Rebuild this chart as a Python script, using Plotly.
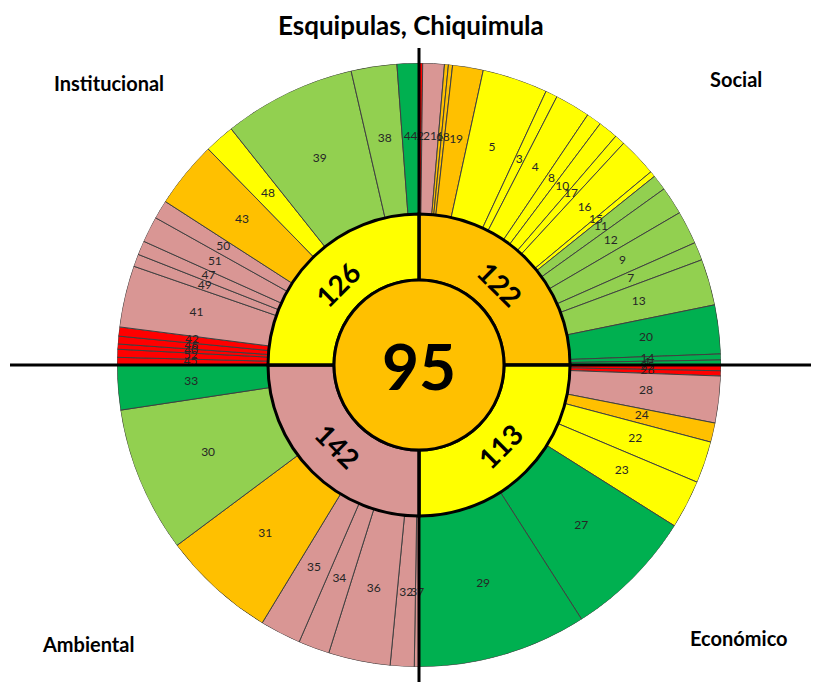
import math
import plotly.graph_objects as go

# ---------------- data ----------------
title_text = "Esquipulas, Chiquimula"
overall_score = 95
overall_level = 3

dimensions = ["Social", "Económico", "Ambiental", "Institucional"]
dimension_scores = [122, 113, 142, 126]
dimension_levels = [3, 4, 2, 4]

# indicators per dimension, clockwise order, with their share of the quadrant
social_ids = ["2", "21", "6", "18", "19", "5", "3", "4", "8", "10", "17", "16", "15",
              "11", "12", "9", "7", "13", "20", "14", "1"]
social_weights = [0.7, 4.15, 0.75, 0.8, 5.9, 12.6, 2.3, 6.8, 2.9, 3.8, 2.0, 7.5, 1.1,
                  3.0, 5.4, 6.4, 3.5, 8.9, 9.4, 1.15, 0.95]
social_levels = [1, 2, 3, 3, 3, 4, 4, 4, 4, 4, 4, 4, 4, 5, 5, 5, 5, 5, 6, 6, 6]

econ_ids = ["25", "26", "28", "24", "22", "23", "27", "29"]
econ_weights = [1.1, 1.0, 9.0, 3.7, 8.05, 9.35, 25.2, 32.6]
econ_levels = [1, 1, 2, 3, 4, 4, 6, 6]

amb_ids = ["37", "32", "36", "34", "35", "31", "30", "33"]
amb_weights = [0.9, 4.6, 11.9, 6.0, 7.9, 22.0, 28.1, 8.6]
amb_levels = [2, 2, 2, 2, 2, 3, 5, 6]

inst_ids = ["45", "52", "40", "46", "42", "41", "49", "47", "51", "50", "43", "48",
            "39", "38", "44"]
inst_weights = [1.46, 1.54, 1.0, 1.5, 1.75, 11.85, 2.4, 2.7, 5.0, 3.6, 12.9, 5.8,
                25.5, 8.8, 4.2]
inst_levels = [1, 1, 1, 1, 1, 2, 2, 2, 2, 2, 3, 4, 5, 5, 6]

# ---------------- style ----------------
level_colors = {1: "#FF0000", 2: "#D99694", 3: "#FFC000", 4: "#FFFF00",
                5: "#92D050", 6: "#00B050"}

OFF = 8                    # default page margin of the html body
W, H = 819 - OFF, 682 - OFF
CX, CY = 419, 365          # centre in page pixels (from top-left)
R_OUT, R_MID, R_IN = 302, 151, 85
FONT = "Lato, 'Open Sans', sans-serif"


def paper(px, py):
    return (px - OFF) / W, 1 - (py - OFF) / H


groups = [(social_ids, social_weights, social_levels),
          (econ_ids, econ_weights, econ_levels),
          (amb_ids, amb_weights, amb_levels),
          (inst_ids, inst_weights, inst_levels)]

thetas, widths, colors, labels = [], [], [], []
for q, (ids, wts, lvls) in enumerate(groups):
    total = sum(wts)
    start = 90.0 * q
    for i, w, lv in zip(ids, wts, lvls):
        span = 90.0 * w / total
        thetas.append(start + span / 2)
        widths.append(span)
        colors.append(level_colors[lv])
        labels.append(i)
        start += span

fig = go.Figure()

# outer ring
fig.add_trace(go.Barpolar(
    theta=thetas, width=widths, r=[R_OUT - R_MID] * len(thetas), base=R_MID,
    marker=dict(color=colors, line=dict(color="#404040", width=1)),
    hoverinfo="skip", showlegend=False))

# inner ring (dimensions)
dim_theta = [45 + 90 * k for k in range(4)]
fig.add_trace(go.Barpolar(
    theta=dim_theta, width=[90] * 4, r=[R_MID - R_IN] * 4, base=R_IN,
    marker=dict(color=[level_colors[l] for l in dimension_levels],
                line=dict(color="black", width=3)),
    hoverinfo="skip", showlegend=False))

# outer labels
fig.add_trace(go.Scatterpolar(
    theta=thetas, r=[(R_OUT + R_MID) / 2 + 2] * len(thetas), mode="text", text=labels,
    textfont=dict(size=12, color="#262626", family=FONT),
    hoverinfo="skip", showlegend=False))

x0, y1 = paper(CX - R_OUT, CY - R_OUT)
x1, y0 = paper(CX + R_OUT, CY + R_OUT)

annotations = []
for k, (s, th) in enumerate(zip(dimension_scores, dim_theta)):
    rr = (R_IN + R_MID) / 2 - 3
    ax, ay = paper(CX + rr * math.sin(math.radians(th)),
                   CY - rr * math.cos(math.radians(th)))
    ang = th
    while ang > 90:
        ang -= 180
    annotations.append(dict(x=ax, y=ay, xref="paper", yref="paper",
                            xanchor="center", yanchor="middle",
                            text=f"<b>{s}</b>", showarrow=False, textangle=ang,
                            font=dict(size=28, color="black", family=FONT)))

ax, ay = paper(CX, CY)
annotations.append(dict(x=ax, y=ay, xref="paper", yref="paper",
                        xanchor="center", yanchor="middle",
                        text=f"<b>{overall_score}</b>", showarrow=False,
                        font=dict(size=64, color="black", family=FONT)))

ax, ay = paper(411, 25)
annotations.append(dict(x=ax, y=ay, xref="paper", yref="paper",
                        xanchor="center", yanchor="middle",
                        text=f"<b>{title_text}</b>", showarrow=False,
                        font=dict(size=26, color="black", family=FONT)))

corner_pos = [(736, 79), (739, 638), (88, 644), (109, 83)]
for name, (px, py) in zip(dimensions, corner_pos):
    ax, ay = paper(px, py)
    annotations.append(dict(x=ax, y=ay, xref="paper", yref="paper",
                            xanchor="center", yanchor="middle",
                            text=f"<b>{name}</b>", showarrow=False,
                            font=dict(size=20, color="black", family=FONT)))

vx, vtop = paper(CX, 48)
_, vbot = paper(CX, 690)
hl, hy = paper(10, CY)
hr, _ = paper(830, CY)
cx0, cy1 = paper(CX - R_IN, CY - R_IN)
cx1, cy0 = paper(CX + R_IN, CY + R_IN)

shapes = [
    dict(type="line", xref="paper", yref="paper", x0=vx, x1=vx,
         y0=vbot, y1=vtop, line=dict(color="black", width=3), layer="above"),
    dict(type="line", xref="paper", yref="paper", x0=hl, x1=hr,
         y0=hy, y1=hy, line=dict(color="black", width=3), layer="above"),
    dict(type="circle", xref="paper", yref="paper",
         x0=cx0, x1=cx1, y0=cy0, y1=cy1,
         fillcolor=level_colors[overall_level], line=dict(color="black", width=3),
         layer="above"),
]

fig.update_layout(
    width=W, height=H, margin=dict(l=0, r=0, t=0, b=0),
    paper_bgcolor="white", plot_bgcolor="white",
    font=dict(family=FONT),
    polar=dict(
        domain=dict(x=[x0, x1], y=[y0, y1]),
        bgcolor="rgba(0,0,0,0)",
        bargap=0,
        radialaxis=dict(range=[0, R_OUT], visible=False),
        angularaxis=dict(rotation=90, direction="clockwise", visible=False),
    ),
    annotations=annotations,
    shapes=shapes,
)

fig.write_html("out.html")
